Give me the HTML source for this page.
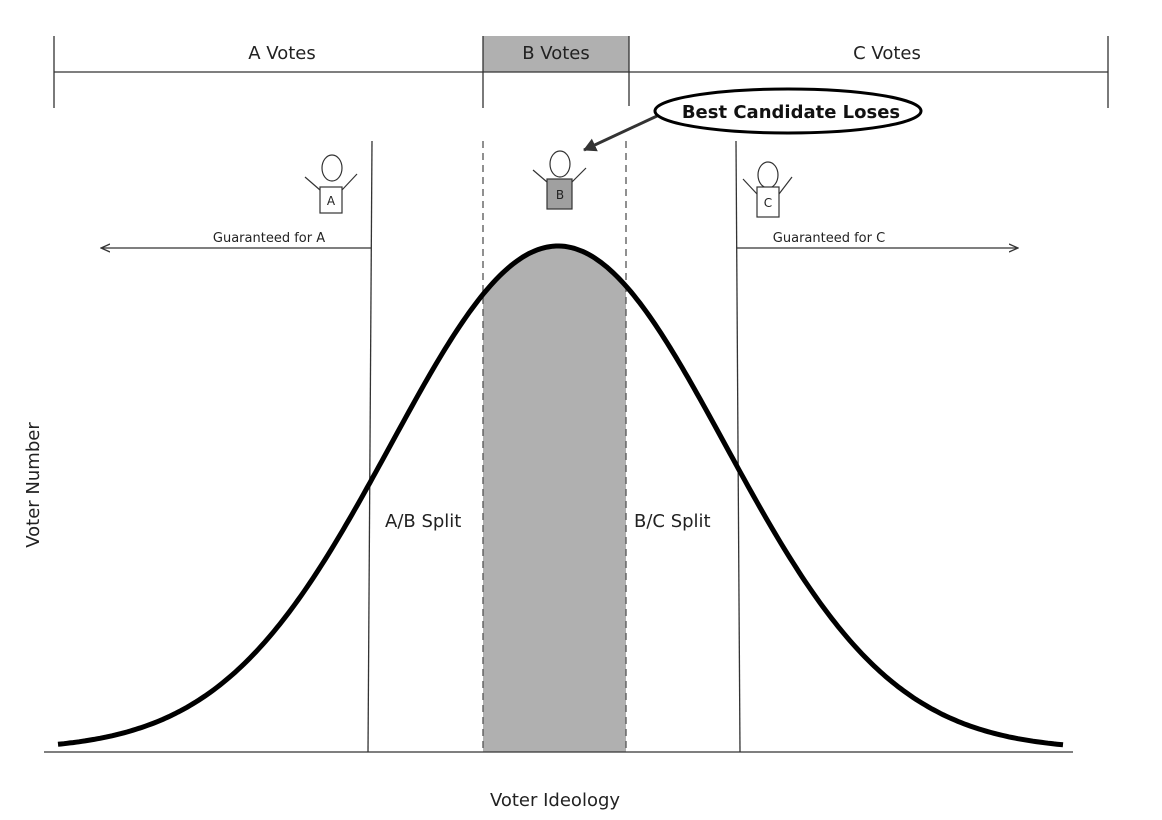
<!DOCTYPE html>
<html><head><meta charset="utf-8"><style>
html,body{margin:0;padding:0;background:#fff;}
svg{display:block;font-family:"DejaVu Sans","Liberation Sans",sans-serif;}
</style></head><body>
<svg id="s" width="1162" height="820" viewBox="0 0 1162 820" xmlns="http://www.w3.org/2000/svg">
<defs>
<clipPath id="cb"><rect x="483" y="0" width="143" height="752"/></clipPath>
<marker id="ah" markerWidth="10" markerHeight="10" refX="8" refY="5" orient="auto" markerUnits="userSpaceOnUse"><path d="M0,1 L9,5 L0,9" fill="none" stroke="#333" stroke-width="1.3"/></marker>
<marker id="ah2" markerWidth="16" markerHeight="16" refX="12" refY="8" orient="auto" markerUnits="userSpaceOnUse"><path d="M0,1 L13,8 L0,15 Z" fill="#333"/></marker>
</defs>
<!-- top bar -->
<rect x="483" y="36" width="146" height="36" fill="#b0b0b0"/>
<g stroke="#333" stroke-width="1.3">
<line x1="54" y1="72" x2="1108" y2="72"/>
<line x1="54" y1="36" x2="54" y2="108"/>
<line x1="483" y1="36" x2="483" y2="108"/>
<line x1="629" y1="36" x2="629" y2="106"/>
<line x1="1108" y1="36" x2="1108" y2="108"/>
</g>
<g font-size="18" fill="#222" text-anchor="middle">
<text x="282" y="59">A Votes</text>
<text x="556" y="59">B Votes</text>
<text x="887" y="59">C Votes</text>
</g>
<!-- fill under curve -->
<path id="fillp" d="" fill="#b0b0b0" clip-path="url(#cb)"/>
<!-- verticals -->
<g stroke="#333" stroke-width="1.3" fill="none">
<line x1="372" y1="141" x2="368" y2="752"/>
<line x1="736" y1="141" x2="740" y2="752"/>
<line x1="483" y1="141" x2="483" y2="752" stroke-dasharray="7,5" stroke="#555"/>
<line x1="626" y1="141" x2="626" y2="752" stroke-dasharray="7,5" stroke="#555"/>
<line x1="44" y1="752" x2="1073" y2="752"/>
<line x1="371" y1="248" x2="102" y2="248" marker-end="url(#ah)"/>
<line x1="737" y1="248" x2="1017" y2="248" marker-end="url(#ah)"/>
</g>
<path id="curve" d="" fill="none" stroke="#000" stroke-width="5"/>
<g font-size="13" fill="#222" text-anchor="middle">
<text x="269" y="242">Guaranteed for A</text>
<text x="829" y="242">Guaranteed for C</text>
</g>
<!-- figures -->
<g stroke="#333" stroke-width="1.2" fill="#fff">
<ellipse cx="332" cy="168" rx="10" ry="13"/>
<line x1="320" y1="190" x2="305" y2="177"/><line x1="342" y1="190" x2="357" y2="174"/>
<rect x="320" y="187" width="22" height="26"/>
<ellipse cx="560" cy="164" rx="10" ry="13"/>
<line x1="547" y1="182" x2="533" y2="170"/><line x1="572" y1="182" x2="586" y2="168"/>
<rect x="547" y="179" width="25" height="30" fill="#a0a0a0"/>
<ellipse cx="768" cy="175" rx="10" ry="13"/>
<line x1="757" y1="194" x2="743" y2="179"/><line x1="779" y1="194" x2="792" y2="177"/>
<rect x="757" y="187" width="22" height="30"/>
</g>
<g font-size="12" fill="#222" text-anchor="middle">
<text x="331" y="205">A</text><text x="560" y="199">B</text><text x="768" y="207">C</text>
</g>
<!-- callout -->
<line x1="657" y1="116" x2="584" y2="150" stroke="#333" stroke-width="3" marker-end="url(#ah2)"/>
<ellipse cx="788" cy="111" rx="133" ry="22" fill="#fff" stroke="#000" stroke-width="3"/>
<text x="791" y="118" font-size="18" font-weight="bold" text-anchor="middle" fill="#111">Best Candidate Loses</text>
<g font-size="18" fill="#222">
<text x="385" y="527">A/B Split</text>
<text x="634" y="527">B/C Split</text>
<text x="555" y="806" text-anchor="middle">Voter Ideology</text>
<text transform="translate(39,485) rotate(-90)" text-anchor="middle">Voter Number</text>
</g>
<script>
var p="",s=167,pk=558,H=504,b=750;
for(var x=58;x<=1065;x+=3){var d=x-pk;var y=b-H*Math.exp(-d*d/(2*s*s));p+=(x==58?"M":"L")+x+","+y.toFixed(1);}
document.getElementById("curve").setAttribute("d",p);
document.getElementById("fillp").setAttribute("d",p+"L1065,752L58,752Z");
</script>
</svg>
</body></html>
